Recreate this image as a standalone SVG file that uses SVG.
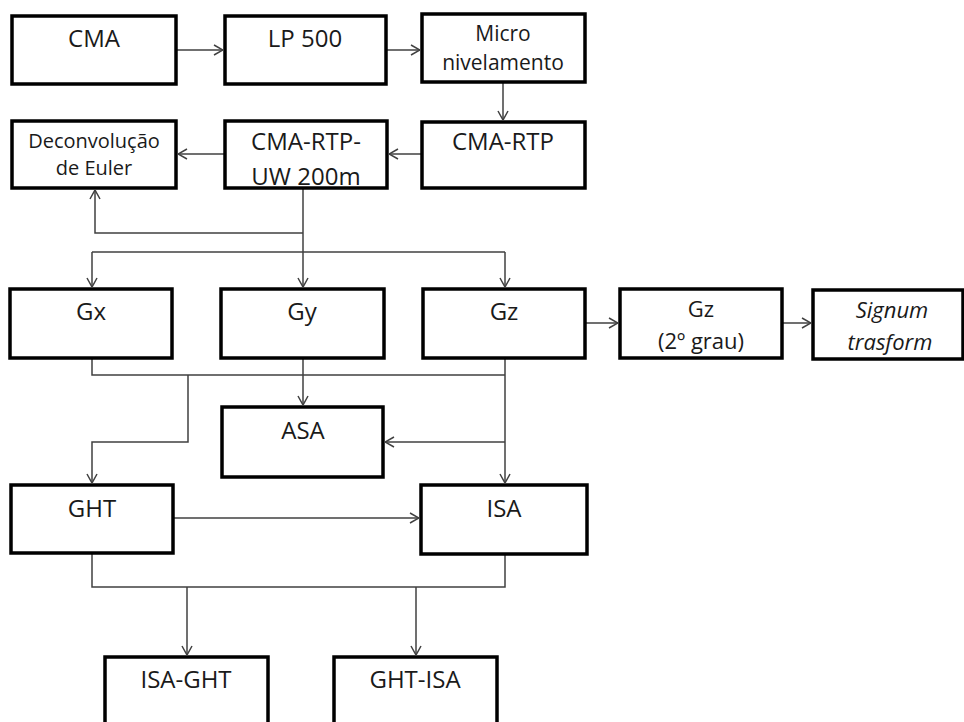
<svg xmlns="http://www.w3.org/2000/svg" width="964" height="722" viewBox="0 0 964 722">
<style>
.box{fill:#fff;stroke:#000;stroke-width:3.5}
.t{font-family:"Open Sans","Liberation Sans",sans-serif;font-size:24px;fill:#1a1a1a;text-anchor:middle}
.s{font-size:21px}
.d{font-size:20px}
.m{font-size:22px}
.i{font-style:italic}
.c{fill:none;stroke:#404040;stroke-width:1.5}
</style>
<defs>
<marker id="arr" viewBox="0 0 10 12" refX="10" refY="6" markerWidth="10" markerHeight="12" markerUnits="userSpaceOnUse" orient="auto">
<path d="M1,1 L10,6 L1,11" fill="none" stroke="#404040" stroke-width="1.5"/>
</marker>
</defs>
<rect width="964" height="722" fill="#fff"/>
<g id="connectors">
<path class="c" d="M176,50 H223" marker-end="url(#arr)"/>
<path class="c" d="M386,50 H420" marker-end="url(#arr)"/>
<path class="c" d="M503,82 V120" marker-end="url(#arr)"/>
<path class="c" d="M422,154 H389" marker-end="url(#arr)"/>
<path class="c" d="M225,154 H178" marker-end="url(#arr)"/>
<path class="c" d="M303,188 V287" marker-end="url(#arr)"/>
<path class="c" d="M303,233 H95 V190" marker-end="url(#arr)"/>
<path class="c" d="M92,252 H505"/>
<path class="c" d="M92,252 V287" marker-end="url(#arr)"/>
<path class="c" d="M505,252 V287" marker-end="url(#arr)"/>
<path class="c" d="M585,323 H618" marker-end="url(#arr)"/>
<path class="c" d="M782,323 H811" marker-end="url(#arr)"/>
<path class="c" d="M92,358 V375 H505"/>
<path class="c" d="M505,358 V483" marker-end="url(#arr)"/>
<path class="c" d="M303,358 V405" marker-end="url(#arr)"/>
<path class="c" d="M188,375 V442 H92 V483" marker-end="url(#arr)"/>
<path class="c" d="M505,442 H385" marker-end="url(#arr)"/>
<path class="c" d="M173,518 H419" marker-end="url(#arr)"/>
<path class="c" d="M92,553 V587 H505 V555"/>
<path class="c" d="M187,587 V655" marker-end="url(#arr)"/>
<path class="c" d="M416,587 V655" marker-end="url(#arr)"/>
</g>
<g id="cma"><rect class="box" x="12" y="16" width="164" height="68"/><text class="t" x="94" y="47">CMA</text></g>
<g id="lp500"><rect class="box" x="225" y="16" width="161" height="68"/><text class="t" x="305" y="47">LP 500</text></g>
<g id="micro"><rect class="box" x="422" y="14" width="163" height="68"/><text class="t s" x="503" y="41">Micro</text><text class="t s" x="503" y="70">nivelamento</text></g>
<g id="deconv"><rect class="box" x="12" y="121" width="164" height="67"/><text class="t d" x="94" y="148">Deconvolução</text><text class="t d" x="94" y="175">de Euler</text></g>
<g id="cmartpuw"><rect class="box" x="225" y="121" width="162" height="67"/><text class="t" x="306" y="150">CMA-RTP-</text><text class="t" x="306" y="185">UW 200m</text></g>
<g id="cmartp"><rect class="box" x="422" y="122" width="163" height="66"/><text class="t" x="503" y="150">CMA-RTP</text></g>
<g id="gx"><rect class="box" x="10" y="289" width="162" height="69"/><text class="t" x="91" y="320">Gx</text></g>
<g id="gy"><rect class="box" x="221" y="289" width="163" height="69"/><text class="t" x="302" y="320">Gy</text></g>
<g id="gz"><rect class="box" x="423" y="289" width="162" height="69"/><text class="t" x="504" y="320">Gz</text></g>
<g id="gz2"><rect class="box" x="620" y="289" width="162" height="69"/><text class="t m" x="701" y="317">Gz</text><text class="t m" x="701" y="349">(2º grau)</text></g>
<g id="signum"><rect class="box" x="813" y="290" width="150" height="69"/><text class="t m i" x="892" y="318">Signum</text><text class="t m i" x="890" y="350">trasform</text></g>
<g id="asa"><rect class="box" x="222" y="407" width="161" height="70"/><text class="t" x="303" y="439">ASA</text></g>
<g id="ght"><rect class="box" x="11" y="485" width="162" height="68"/><text class="t" x="92" y="517">GHT</text></g>
<g id="isa"><rect class="box" x="421" y="485" width="166" height="69"/><text class="t" x="504" y="517">ISA</text></g>
<g id="isaght"><rect class="box" x="105" y="657" width="163" height="80"/><text class="t" x="186" y="688">ISA-GHT</text></g>
<g id="ghtisa"><rect class="box" x="334" y="657" width="163" height="80"/><text class="t" x="415" y="688">GHT-ISA</text></g>
</svg>
